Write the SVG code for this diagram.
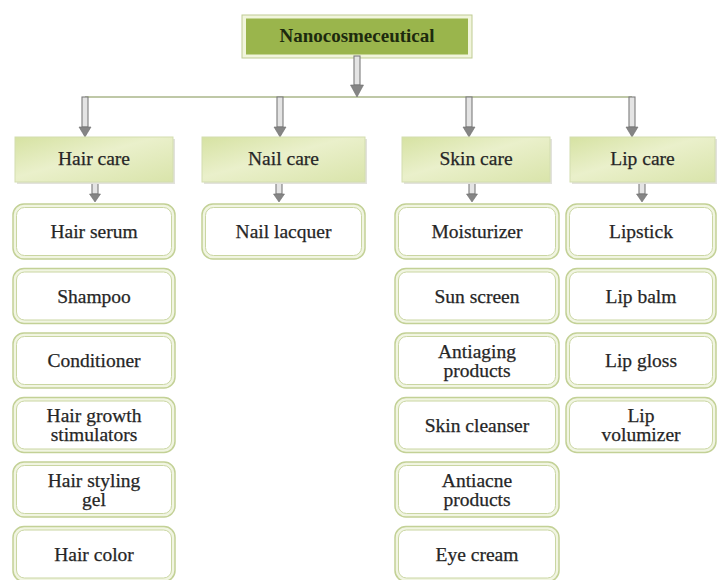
<svg xmlns="http://www.w3.org/2000/svg" width="718" height="580" viewBox="0 0 718 580">
<defs>
<linearGradient id="cat" x1="0" y1="0" x2="1" y2="1">
<stop offset="0" stop-color="#d6e2a2"/>
<stop offset="0.45" stop-color="#eaf0cb"/>
<stop offset="1" stop-color="#d9e4aa"/>
</linearGradient>
<style>
text{font-family:"Liberation Serif","DejaVu Serif",serif;font-size:19.5px;fill:#262626;stroke:#262626;stroke-width:0.25;text-anchor:middle}
.top text{font-weight:bold;fill:#1d2a0e;stroke:none;font-size:19px}
.cat .s{fill:#e2e2dc}
.cat .b{fill:url(#cat);stroke:#d3ddb0;stroke-width:1}
.item .o{fill:#f1f5e2;stroke:#c3d196;stroke-width:1.5}
.item .i{fill:#ffffff;stroke:#cad6a2;stroke-width:1}
.shaft{fill:#e4e4e4;stroke:#7c7c7c;stroke-width:1.1}
.head{fill:#858585;stroke:#6f6f6f;stroke-width:0.6}
.hline{stroke:#aab68a;stroke-width:1.6;fill:none}
</style>
</defs>
<rect width="718" height="580" fill="#ffffff"/>

<g id="nanocosmeceutical" class="top">
<rect x="242" y="15" width="230" height="43" fill="#f1f5dc" stroke="#bfcb93" stroke-width="1"/>
<rect x="246" y="18.5" width="222" height="36" fill="#9ab54c"/>
<text x="357" y="42">Nanocosmeceutical</text>
</g>

<g id="connectors">
<line class="hline" x1="85" y1="97" x2="632" y2="97"/>
<rect class="shaft" x="354" y="56" width="6" height="29"/>
<path class="head" d="M350.5 85 H363.5 L357 97 Z"/>
<rect class="shaft" x="82" y="97" width="6" height="30"/>
<path class="head" d="M79 127 H91 L85 137 Z"/>
<rect class="shaft" x="277" y="97" width="6" height="30"/>
<path class="head" d="M274 127 H286 L280 137 Z"/>
<rect class="shaft" x="466" y="97" width="6" height="30"/>
<path class="head" d="M463 127 H475 L469 137 Z"/>
<rect class="shaft" x="629" y="97" width="6" height="30"/>
<path class="head" d="M626 127 H638 L632 137 Z"/>
<rect class="shaft" x="92" y="182" width="6" height="12"/>
<path class="head" d="M89.5 194 H100.5 L95 202 Z"/>
<rect class="shaft" x="276" y="182" width="6" height="12"/>
<path class="head" d="M273.5 194 H284.5 L279 202 Z"/>
<rect class="shaft" x="469" y="182" width="6" height="12"/>
<path class="head" d="M466.5 194 H477.5 L472 202 Z"/>
<rect class="shaft" x="639" y="182" width="6" height="12"/>
<path class="head" d="M636.5 194 H647.5 L642 202 Z"/>
</g>

<g id="hair-care" class="cat"><rect class="s" x="17" y="139" width="158" height="45"/><rect class="b" x="15" y="137" width="158" height="45"/><text x="94" y="164.5">Hair care</text></g>
<g id="nail-care" class="cat"><rect class="s" x="204" y="139" width="163" height="45"/><rect class="b" x="202" y="137" width="163" height="45"/><text x="283.5" y="164.5">Nail care</text></g>
<g id="skin-care" class="cat"><rect class="s" x="404" y="139" width="148" height="45"/><rect class="b" x="402" y="137" width="148" height="45"/><text x="476" y="164.5">Skin care</text></g>
<g id="lip-care" class="cat"><rect class="s" x="572" y="139" width="145" height="45"/><rect class="b" x="570" y="137" width="145" height="45"/><text x="642.5" y="164.5">Lip care</text></g>

<g id="hair-serum" class="item"><rect class="o" x="13" y="204" width="162" height="55" rx="11"/><rect class="i" x="16.5" y="207.5" width="155" height="48" rx="8"/><text x="94" y="238">Hair serum</text></g>
<g id="shampoo" class="item"><rect class="o" x="13" y="268.5" width="162" height="55" rx="11"/><rect class="i" x="16.5" y="272" width="155" height="48" rx="8"/><text x="94" y="302.5">Shampoo</text></g>
<g id="conditioner" class="item"><rect class="o" x="13" y="333" width="162" height="55" rx="11"/><rect class="i" x="16.5" y="336.5" width="155" height="48" rx="8"/><text x="94" y="367">Conditioner</text></g>
<g id="hair-growth" class="item"><rect class="o" x="13" y="397.5" width="162" height="55" rx="11"/><rect class="i" x="16.5" y="401" width="155" height="48" rx="8"/><text x="94" y="422">Hair growth</text><text x="94" y="441">stimulators</text></g>
<g id="hair-styling" class="item"><rect class="o" x="13" y="462" width="162" height="55" rx="11"/><rect class="i" x="16.5" y="465.5" width="155" height="48" rx="8"/><text x="94" y="486.5">Hair styling</text><text x="94" y="505.5">gel</text></g>
<g id="hair-color" class="item"><rect class="o" x="13" y="526.5" width="162" height="55" rx="11"/><rect class="i" x="16.5" y="530" width="155" height="48" rx="8"/><text x="94" y="560.5">Hair color</text></g>

<g id="nail-lacquer" class="item"><rect class="o" x="202" y="204" width="163" height="55" rx="11"/><rect class="i" x="205.5" y="207.5" width="156" height="48" rx="8"/><text x="283.5" y="238">Nail lacquer</text></g>

<g id="moisturizer" class="item"><rect class="o" x="395" y="204" width="164" height="55" rx="11"/><rect class="i" x="398.5" y="207.5" width="157" height="48" rx="8"/><text x="477" y="238">Moisturizer</text></g>
<g id="sun-screen" class="item"><rect class="o" x="395" y="268.5" width="164" height="55" rx="11"/><rect class="i" x="398.5" y="272" width="157" height="48" rx="8"/><text x="477" y="302.5">Sun screen</text></g>
<g id="antiaging" class="item"><rect class="o" x="395" y="333" width="164" height="55" rx="11"/><rect class="i" x="398.5" y="336.5" width="157" height="48" rx="8"/><text x="477" y="357.5">Antiaging</text><text x="477" y="376.5">products</text></g>
<g id="skin-cleanser" class="item"><rect class="o" x="395" y="397.5" width="164" height="55" rx="11"/><rect class="i" x="398.5" y="401" width="157" height="48" rx="8"/><text x="477" y="431.5">Skin cleanser</text></g>
<g id="antiacne" class="item"><rect class="o" x="395" y="462" width="164" height="55" rx="11"/><rect class="i" x="398.5" y="465.5" width="157" height="48" rx="8"/><text x="477" y="486.5">Antiacne</text><text x="477" y="505.5">products</text></g>
<g id="eye-cream" class="item"><rect class="o" x="395" y="526.5" width="164" height="55" rx="11"/><rect class="i" x="398.5" y="530" width="157" height="48" rx="8"/><text x="477" y="560.5">Eye cream</text></g>

<g id="lipstick" class="item"><rect class="o" x="566" y="204" width="150" height="55" rx="11"/><rect class="i" x="569.5" y="207.5" width="143" height="48" rx="8"/><text x="641" y="238">Lipstick</text></g>
<g id="lip-balm" class="item"><rect class="o" x="566" y="268.5" width="150" height="55" rx="11"/><rect class="i" x="569.5" y="272" width="143" height="48" rx="8"/><text x="641" y="302.5">Lip balm</text></g>
<g id="lip-gloss" class="item"><rect class="o" x="566" y="333" width="150" height="55" rx="11"/><rect class="i" x="569.5" y="336.5" width="143" height="48" rx="8"/><text x="641" y="367">Lip gloss</text></g>
<g id="lip-volumizer" class="item"><rect class="o" x="566" y="397.5" width="150" height="55" rx="11"/><rect class="i" x="569.5" y="401" width="143" height="48" rx="8"/><text x="641" y="422">Lip</text><text x="641" y="441">volumizer</text></g>
</svg>
